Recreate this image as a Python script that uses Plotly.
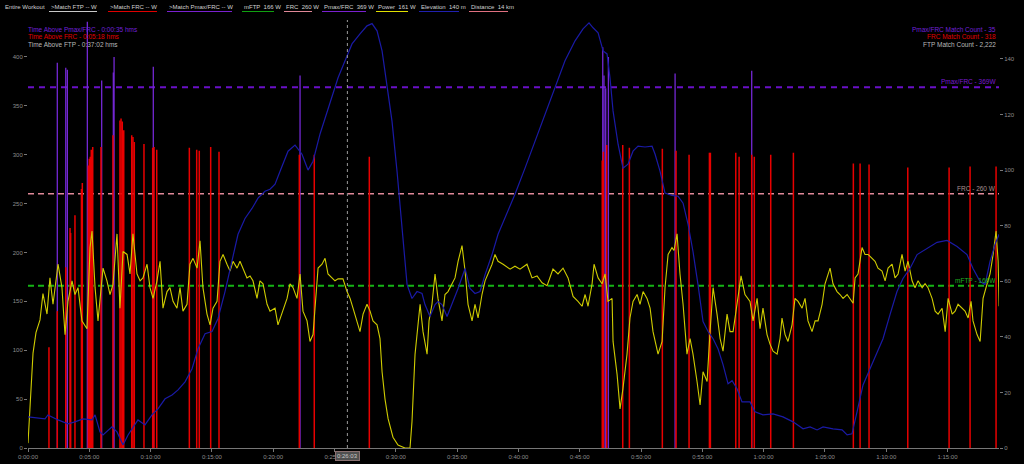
import plotly.graph_objects as go

# ---------------- data ----------------
# Power (W) vs elapsed time (minutes)
power_min = [0.00, 0.16, 0.33, 0.41, 0.65, 0.98, 1.22, 1.55, 1.79, 2.04,
             2.45, 2.77, 3.02, 3.26, 3.59, 3.83, 4.08, 4.40, 4.81, 5.06,
             5.22, 5.47, 5.71, 6.12, 6.44, 6.69, 6.93, 7.26, 7.50, 7.75,
             8.08, 8.32, 8.56, 8.89, 9.14, 9.38, 9.71, 9.95, 10.20, 10.52,
             10.77, 11.01, 11.34, 11.58, 11.83, 12.15, 12.40, 12.64, 12.97, 13.21,
             13.46, 13.79, 14.03, 14.27, 14.60, 14.85, 15.09, 15.42, 15.66, 15.91,
             16.23, 16.48, 16.72, 17.05, 17.29, 17.54, 17.86, 18.11, 18.35, 18.68,
             18.92, 19.17, 19.50, 19.74, 20.15, 20.39, 20.80, 21.13, 21.37, 21.62,
             21.94, 22.19, 22.43, 22.76, 23.00, 23.25, 23.41, 23.66, 23.98, 24.23,
             24.47, 24.80, 25.04, 25.29, 25.69, 26.02, 26.27, 26.51, 26.84, 27.08,
             27.33, 27.65, 27.90, 28.14, 28.47, 28.71, 28.88, 29.12, 29.37, 29.77,
             30.18, 30.75, 31.16, 31.32, 31.57, 31.81, 31.98, 32.22, 32.55, 32.71,
             32.95, 33.20, 33.44, 33.77, 34.01, 34.26, 34.59, 34.83, 35.08, 35.40,
             35.65, 35.89, 36.22, 36.46, 36.71, 37.03, 37.28, 37.52, 37.85, 38.09,
             38.34, 38.75, 39.32, 39.72, 40.13, 40.70, 41.11, 41.52, 41.93, 42.34,
             42.82, 43.23, 43.64, 44.05, 44.46, 44.86, 45.19, 45.44, 45.68, 46.01,
             46.17, 46.50, 46.82, 47.07, 47.31, 47.64, 47.72, 48.05, 48.29, 48.53,
             48.86, 49.10, 49.35, 49.68, 49.92, 50.17, 50.49, 50.74, 50.98, 51.39,
             51.72, 51.96, 52.21, 52.53, 52.69, 52.94, 53.18, 53.43, 53.75, 54.00,
             54.24, 54.57, 54.82, 55.06, 55.39, 55.63, 55.88, 56.20, 56.45, 56.69,
             57.02, 57.26, 57.51, 57.83, 58.16, 58.48, 58.89, 59.14, 59.47, 59.71,
             59.95, 60.28, 60.53, 60.77, 61.10, 61.34, 61.50, 61.75, 61.99, 62.32,
             62.56, 62.81, 63.14, 63.38, 63.62, 63.95, 64.20, 64.44, 64.77, 65.01,
             65.42, 65.66, 65.99, 66.23, 66.48, 66.81, 67.05, 67.30, 67.46, 67.70,
             68.03, 68.27, 68.52, 68.84, 69.09, 69.33, 69.66, 69.91, 70.15, 70.48,
             70.72, 70.97, 71.29, 71.54, 71.78, 72.11, 72.35, 72.60, 72.93, 73.17,
             73.41, 73.74, 73.99, 74.23, 74.56, 74.81, 75.05, 75.38, 75.62, 75.86,
             76.19, 76.43, 76.68, 76.92, 77.08, 77.41, 77.66, 77.82, 77.90, 78.23,
             78.47, 78.72, 78.96, 79.13, 79.21]
power_w = [5, 39, 83, 97, 118, 131, 158, 137, 174, 147,
           188, 164, 116, 150, 171, 157, 164, 130, 122, 205,
           222, 164, 130, 184, 171, 157, 167, 219, 143, 201,
           198, 178, 219, 178, 171, 174, 188, 164, 153, 171,
           191, 143, 160, 164, 150, 143, 164, 140, 147, 188,
           194, 184, 212, 164, 137, 126, 143, 150, 191, 198,
           188, 181, 191, 184, 191, 184, 174, 176, 171, 153,
           171, 168, 147, 140, 143, 126, 140, 153, 168, 164,
           153, 178, 140, 130, 109, 116, 143, 184, 188, 194,
           178, 174, 171, 173, 173, 160, 153, 143, 130, 119,
           137, 147, 140, 130, 126, 112, 78, 50, 30, 11,
           3, 0, 0, 27, 96, 130, 147, 119, 96, 130,
           147, 178, 153, 130, 157, 160, 168, 174, 191, 207,
           181, 147, 130, 147, 133, 157, 171, 178, 188, 198,
           191, 188, 183, 186, 183, 188, 174, 176, 169, 166,
           183, 178, 184, 174, 155, 150, 145, 157, 145, 168,
           188, 174, 168, 178, 150, 153, 109, 75, 40, 61,
           96, 133, 150, 157, 147, 160, 153, 143, 119, 96,
           109, 164, 198, 205, 202, 219, 178, 147, 96, 112,
           96, 68, 44, 78, 68, 119, 164, 137, 112, 99,
           137, 119, 119, 147, 176, 157, 150, 130, 153, 122,
           143, 116, 106, 99, 96, 112, 133, 116, 109, 126,
           153, 150, 143, 153, 130, 119, 130, 130, 147, 168,
           184, 168, 160, 157, 153, 157, 153, 148, 174, 178,
           205, 198, 198, 194, 191, 184, 181, 171, 184, 188,
           174, 178, 198, 181, 191, 171, 164, 171, 164, 168,
           164, 153, 140, 137, 143, 119, 153, 137, 140, 147,
           143, 140, 133, 150, 130, 116, 109, 133, 153, 168,
           178, 198, 222, 191, 145]

# Elevation (m) vs elapsed time (minutes)
elev_min = [0.00, 1.39, 1.63, 2.45, 3.26, 3.83, 4.49, 5.22, 5.47, 5.87,
            6.12, 6.85, 7.26, 7.75, 8.16, 8.97, 9.54, 10.11, 10.60, 11.18,
            11.75, 12.24, 12.81, 13.38, 13.87, 14.44, 15.01, 15.50, 16.07, 16.64,
            17.13, 17.70, 18.27, 18.76, 19.33, 19.74, 20.15, 20.56, 21.21, 21.78,
            22.35, 22.84, 23.25, 23.82, 24.23, 24.80, 25.29, 25.86, 26.43, 27.08,
            27.65, 28.06, 28.47, 28.88, 29.28, 29.69, 30.10, 30.51, 30.92, 31.32,
            31.73, 32.14, 32.38, 32.79, 33.20, 33.44, 33.77, 34.18, 34.59, 35.08,
            35.65, 36.05, 36.46, 36.87, 37.28, 37.85, 38.34, 38.91, 39.72, 40.54,
            41.36, 42.17, 42.99, 43.80, 44.62, 45.27, 45.76, 46.09, 46.50, 46.91,
            47.23, 47.47, 47.72, 48.13, 48.53, 48.94, 49.35, 49.76, 50.33, 50.90,
            51.15, 51.55, 51.96, 52.53, 53.02, 53.43, 53.84, 54.24, 54.65, 55.06,
            55.47, 55.88, 56.28, 56.69, 57.10, 57.43, 57.83, 58.24, 58.89, 59.30,
            59.95, 60.77, 61.58, 62.40, 63.22, 63.79, 64.36, 64.85, 65.66, 66.40,
            66.81, 67.21, 67.62, 68.11, 68.68, 69.25, 69.74, 70.31, 70.88, 71.37,
            71.94, 72.52, 73.33, 74.15, 74.96, 75.78, 76.59, 77.08, 77.66, 78.06,
            78.47, 78.88, 79.21]
elev_m = [11.2, 10.5, 11.9, 10.1, 8.7, 9.4, 10.5, 10.1, 11.9, 5.8,
          4.7, 7.6, 5.8, 1.1, 4.7, 10.1, 8.3, 11.9, 14.1, 17.7,
          19.1, 20.9, 23.8, 28.5, 35.7, 41.1, 41.9, 46.6, 56.3, 67.1,
          76.9, 82.6, 86.2, 89.9, 92.4, 93.1, 94.9, 99.6, 106.8, 109.0,
          105.7, 100.0, 103.2, 113.0, 118.7, 126.0, 133.2, 139.3, 145.4, 149.0,
          151.9, 152.7, 150.1, 142.9, 129.6, 117.6, 99.6, 79.0, 58.8, 53.8,
          56.3, 55.6, 51.6, 47.3, 51.6, 52.7, 51.6, 47.3, 51.6, 57.4,
          64.6, 57.4, 55.6, 56.3, 62.4, 69.6, 76.9, 82.6, 91.3, 100.7,
          110.4, 120.2, 129.6, 139.3, 146.5, 150.8, 153.0, 151.2, 149.4, 142.9,
          141.8, 133.2, 121.3, 109.3, 100.7, 102.1, 106.8, 108.6, 108.3, 108.6,
          105.7, 99.6, 91.7, 90.9, 90.6, 88.1, 80.5, 70.7, 58.8, 45.5,
          41.9, 39.3, 35.7, 30.0, 23.1, 24.2, 21.3, 16.6, 16.6, 13.0,
          11.9, 12.3, 11.2, 9.4, 6.9, 7.6, 6.5, 7.6, 6.9, 6.5,
          4.7, 5.1, 13.0, 22.7, 28.5, 34.6, 39.3, 48.0, 56.3, 61.0,
          64.6, 69.6, 71.8, 74.0, 74.7, 72.5, 69.6, 64.6, 59.9, 58.8,
          67.1, 73.3, 76.9]

# FRC matches: time (min) and peak power (W)
frc_match_min = [1.71, 2.39, 3.08, 3.43, 3.48, 3.83, 4.36, 4.43, 4.92, 5.00,
                 5.08, 5.16, 5.28, 5.95, 6.93, 7.50, 7.59, 7.69, 7.81, 8.46,
                 8.56, 8.67, 9.46, 10.17, 10.28, 10.50, 13.16, 13.76, 13.97, 14.90,
                 15.58, 22.13, 23.35, 27.84, 46.84, 46.93, 47.20, 48.51, 49.05, 51.74,
                 52.86, 53.92, 55.58, 55.66, 57.73, 58.00, 59.03, 59.24, 60.58, 62.43,
                 67.32, 67.87, 68.60, 71.76, 75.13, 76.84, 78.96]
frc_match_w = [103, 140, 185, 225, 220, 238, 265, 271, 289, 296,
               298, 305, 308, 308, 320, 335, 337, 334, 325, 320,
               318, 313, 311, 307, 308, 305, 307, 305, 304, 308,
               303, 300, 300, 298, 294, 303, 310, 310, 307, 306,
               304, 300, 302, 302, 302, 298, 300, 298, 300, 302,
               291, 291, 290, 287, 287, 288, 288]

# Pmax/FRC matches: time (min) and peak power (W)
pmax_match_min = [2.39, 3.08, 3.21, 4.84, 6.01, 6.96, 7.02, 10.22, 22.19, 46.88,
                  46.98, 47.12, 47.34, 52.78, 59.03]
pmax_match_w = [394, 389, 387, 436, 376, 384, 400, 390, 381, 410,
                381, 368, 400, 383, 386]

# Thresholds
mftp_w = 166
frc_w = 260
pmax_w = 369
cursor_min = 26.05
cursor_label = "0:26:03"

# Axis ticks
x_tick_min = list(range(0, 80, 5))
x_tick_text = ["0:00:00", "0:05:00", "0:10:00", "0:15:00", "0:20:00", "0:25:00",
               "0:30:00", "0:35:00", "0:40:00", "0:45:00", "0:50:00", "0:55:00",
               "1:00:00", "1:05:00", "1:10:00", "1:15:00"]
y_left_ticks = [0, 50, 100, 150, 200, 250, 300, 350, 400]
y_right_ticks = [0, 20, 40, 60, 80, 100, 120, 140]

# Header items: (text, underline colour)
header_items = [("Entire Workout", None),
                (">Match FTP -- W", "#c8c8c8"),
                (">Match FRC -- W", "#e00000"),
                (">Match Pmax/FRC -- W", "#7a20d0"),
                ("mFTP  166 W", "#10a010"),
                ("FRC  260 W", "#e08898"),
                ("Pmax/FRC  369 W", "#7a20d0"),
                ("Power  161 W", "#e0e000"),
                ("Elevation  140 m", "#2020b0"),
                ("Distance  14 km", "#e07080")]
header_left_px = [3, 49, 108, 167, 242, 284, 322, 376, 419, 469]
header_right_px = [40, 97, 157, 232, 274, 312, 366, 408, 459, 508]

left_notes = [("Time Above Pmax/FRC - 0:00:35 hms", "#7020d8"),
              ("Time Above FRC - 0:05:18 hms", "#e00000"),
              ("Time Above FTP - 0:37:02 hms", "#b8b8b8")]
right_notes = [("Pmax/FRC Match Count - 35", "#7020d8"),
               ("FRC Match Count - 318", "#e00000"),
               ("FTP Match Count - 2,222", "#b8b8b8")]

# ---------------- figure ----------------
W, H = 1024, 464
ML, MR, MT, MB = 28, 25, 20, 16
PW, PH = W - ML - MR, H - MT - MB
X_MAX = 79.2
YL_MAX = 437.8
YR_MAX = 154.0
FONT = "Liberation Sans"
FS = 6
FS_NOTE = 6.5


def px_x(px):
    return (px - ML) / PW


def px_y(py):
    return (H - MB - py) / PH


def stems(ts, vs):
    xs, ys = [], []
    for t, v in zip(ts, vs):
        xs += [t, t, None]
        ys += [0, v, None]
    return xs, ys


fig = go.Figure()

px_, py_ = stems(pmax_match_min, pmax_match_w)
fig.add_trace(go.Scatter(x=px_, y=py_, mode="lines", line=dict(color="#7428d4", width=1.3),
                         hoverinfo="skip", showlegend=False))
fx_, fy_ = stems(frc_match_min, frc_match_w)
fig.add_trace(go.Scatter(x=fx_, y=fy_, mode="lines", line=dict(color="#e80000", width=1.5),
                         hoverinfo="skip", showlegend=False))
fig.add_trace(go.Scatter(x=elev_min, y=elev_m, mode="lines", yaxis="y2",
                         line=dict(color="#1a1aa6", width=1.2), showlegend=False))
fig.add_trace(go.Scatter(x=power_min, y=power_w, mode="lines",
                         line=dict(color="#cfcc00", width=1.1), showlegend=False))

shapes = []
for val, col, wd, dash in [(pmax_w, "#6a10c8", 2, "6px,5px"),
                           (frc_w, "#e08898", 1.5, "6px,4px"),
                           (mftp_w, "#14b414", 2, "6px,4px")]:
    shapes.append(dict(type="line", xref="x", yref="y", x0=0, x1=X_MAX, y0=val, y1=val,
                       line=dict(color=col, width=wd, dash=dash), layer="below"))
shapes.append(dict(type="line", xref="x", yref="paper", x0=cursor_min, x1=cursor_min, y0=0, y1=1,
                   line=dict(color="#9a9a9a", width=1, dash="dot")))

annotations = []
hy = px_y(7)
uy = px_y(11.5)
for (txt, col), lx, rx in zip(header_items, header_left_px, header_right_px):
    annotations.append(dict(text=txt, xref="paper", yref="paper", x=px_x(lx), y=hy,
                            xanchor="left", yanchor="middle", showarrow=False,
                            font=dict(family=FONT, size=FS, color="#d0d0d0")))
    if col:
        shapes.append(dict(type="line", xref="paper", yref="paper", x0=px_x(lx), x1=px_x(rx),
                           y0=uy, y1=uy, line=dict(color=col, width=1)))

for i, (txt, col) in enumerate(left_notes):
    annotations.append(dict(text=txt, xref="paper", yref="paper", x=px_x(26), y=px_y(29 + 7.5 * i),
                            xanchor="left", yanchor="middle", showarrow=False,
                            font=dict(family=FONT, size=FS_NOTE, color=col)))
for i, (txt, col) in enumerate(right_notes):
    annotations.append(dict(text=txt, xref="paper", yref="paper", x=px_x(998), y=px_y(29 + 7.5 * i),
                            xanchor="right", yanchor="middle", showarrow=False,
                            font=dict(family=FONT, size=FS_NOTE, color=col)))

for txt, val, col in [("Pmax/FRC - 369W", pmax_w, "#7a1ad0"),
                      ("FRC - 260 W", frc_w, "#a89090"),
                      ("mFTP - 166W", mftp_w, "#20b020")]:
    annotations.append(dict(text=txt, xref="paper", yref="y", x=px_x(998), y=val,
                            xanchor="right", yanchor="bottom", showarrow=False,
                            font=dict(family=FONT, size=FS_NOTE, color=col)))

annotations.append(dict(text=cursor_label, xref="x", yref="paper", x=cursor_min, y=px_y(456),
                        xanchor="center", yanchor="middle", showarrow=False,
                        bgcolor="#505050", bordercolor="#8a7070", borderwidth=1, borderpad=1,
                        font=dict(family=FONT, size=FS, color="#c8c8c8")))
annotations.append(dict(text="h:mm", xref="paper", yref="paper", x=px_x(512), y=px_y(461),
                        xanchor="center", yanchor="top", showarrow=False,
                        font=dict(family=FONT, size=FS, color="#909090")))

tickfont = dict(family=FONT, size=FS, color="#8c8c8c")
fig.update_layout(
    width=W, height=H,
    margin=dict(l=ML, r=MR, t=MT, b=MB, pad=0),
    paper_bgcolor="#000000", plot_bgcolor="#000000",
    showlegend=False,
    xaxis=dict(range=[0, X_MAX], tickvals=x_tick_min, ticktext=x_tick_text,
               showgrid=False, zeroline=False, showline=True, linecolor="#777777", linewidth=1,
               ticks="outside", ticklen=3, tickcolor="#777777", tickfont=tickfont, automargin=False),
    yaxis=dict(range=[0, YL_MAX], tickvals=y_left_ticks, showgrid=False, zeroline=False,
               showline=False, ticks="outside", ticklen=3, tickcolor="#777777",
               tickfont=tickfont, automargin=False),
    yaxis2=dict(range=[0, YR_MAX], tickvals=y_right_ticks, overlaying="y", side="right",
                showgrid=False, zeroline=False, showline=False, ticks="outside", ticklen=3,
                tickcolor="#777777", tickfont=tickfont, automargin=False),
    shapes=shapes,
    annotations=annotations,
)

fig.write_html("out.html", config={"displayModeBar": False},
               post_script="document.body.style.margin='0';document.body.style.overflow='hidden';")
